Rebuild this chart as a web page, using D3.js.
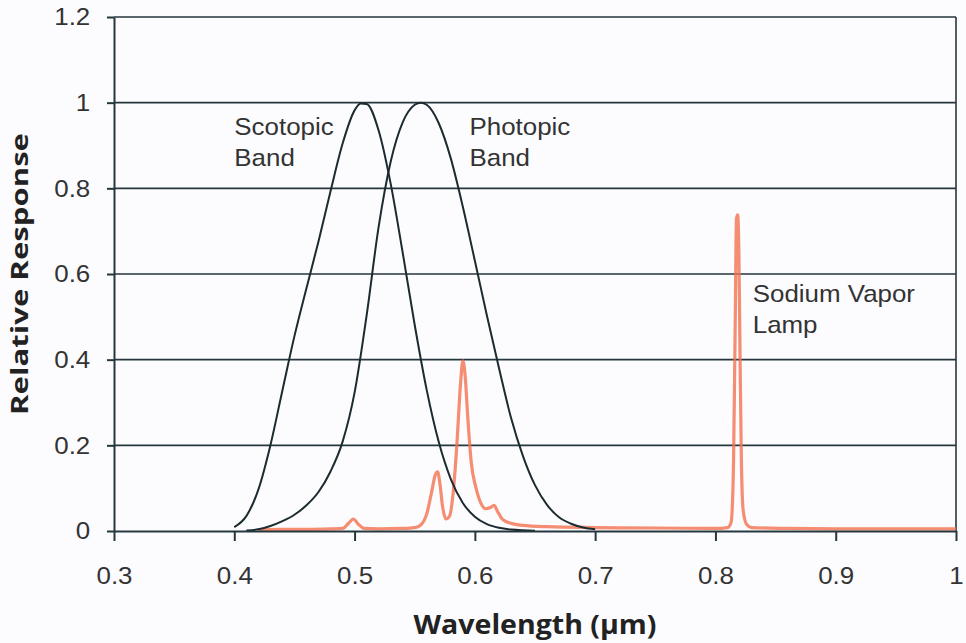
<!DOCTYPE html>
<html lang="en">
<head>
<meta charset="utf-8">
<style>
body { margin: 0; background: #fcfcfe; }
svg { display: block; }
.tick text, .note { font-family: "Liberation Sans", Arial, sans-serif; fill: #333; }
.title { font-family: "Open Sans", "Liberation Sans", sans-serif; font-weight: 700; fill: #222; }
</style>
<title>Relative Response</title>
<script src="https://cdn.jsdelivr.net/npm/d3@7"></script>
</head>
<body>
<div id="chart"></div>
<script>

var width = 966,
	height = 643;

var margin = {top: 17, right: 10, bottom: 112, left: 114};

// tick values
var xTicks = [0.3, 0.4, 0.5, 0.6, 0.7, 0.8, 0.9, 1];
var yTicks = [0, 0.2, 0.4, 0.6, 0.8, 1, 1.2];
var yTickLabels = ["0", "0.2", "0.4", "0.6", "0.8", "1", "1.2"];

// scotopic band (wavelength in µm, relative response)
var scotopicWl = [0.40, 0.41, 0.42, 0.43, 0.44, 0.45, 0.46, 0.47, 0.48, 0.49, 0.50, 0.505, 0.51, 0.52, 0.53, 0.54, 0.55, 0.56, 0.57, 0.58, 0.59, 0.60, 0.61, 0.62, 0.63, 0.64, 0.65];
var scotopicVal = [0.0093, 0.0348, 0.0966, 0.1998, 0.3281, 0.455, 0.567, 0.676, 0.793, 0.904, 0.982, 0.998, 0.997, 0.935, 0.811, 0.650, 0.481, 0.3288, 0.2076, 0.1212, 0.0655, 0.0332, 0.0159, 0.0074, 0.0033, 0.0015, 0.0007];

// photopic band
var photopicWl = [0.41, 0.42, 0.43, 0.44, 0.45, 0.46, 0.47, 0.48, 0.49, 0.50, 0.51, 0.52, 0.53, 0.54, 0.55, 0.555, 0.56, 0.57, 0.58, 0.59, 0.60, 0.61, 0.62, 0.63, 0.64, 0.65, 0.66, 0.67, 0.68, 0.69, 0.70];
var photopicVal = [0.0012, 0.004, 0.0116, 0.023, 0.038, 0.06, 0.091, 0.139, 0.208, 0.323, 0.503, 0.71, 0.862, 0.954, 0.995, 1.0, 0.995, 0.952, 0.87, 0.757, 0.631, 0.503, 0.381, 0.265, 0.175, 0.107, 0.061, 0.032, 0.017, 0.0082, 0.0041];

// sodium vapor lamp spectrum
var sodiumWl = [0.42, 0.44, 0.46, 0.48, 0.49, 0.495, 0.499, 0.503, 0.508, 0.52, 0.54, 0.55, 0.555, 0.56, 0.564, 0.567, 0.569, 0.571, 0.573, 0.576, 0.579, 0.582, 0.585, 0.588, 0.590, 0.592, 0.594, 0.597, 0.601, 0.605, 0.609, 0.613, 0.616, 0.619, 0.623, 0.63, 0.64, 0.66, 0.70, 0.75, 0.80, 0.81, 0.813, 0.815, 0.8165, 0.8175, 0.8185, 0.8195, 0.8205, 0.8215, 0.823, 0.826, 0.83, 0.86, 0.90, 1.0];
var sodiumVal = [0.003, 0.004, 0.004, 0.005, 0.006, 0.018, 0.028, 0.016, 0.006, 0.005, 0.006, 0.008, 0.014, 0.04, 0.09, 0.13, 0.138, 0.11, 0.06, 0.028, 0.035, 0.09, 0.2, 0.34, 0.397, 0.36, 0.27, 0.16, 0.1, 0.065, 0.052, 0.055, 0.06, 0.045, 0.027, 0.018, 0.013, 0.01, 0.008, 0.007, 0.006, 0.008, 0.02, 0.15, 0.5, 0.73, 0.738, 0.65, 0.4, 0.18, 0.05, 0.015, 0.008, 0.006, 0.005, 0.005];

var labels = [
	{lines: ["Scotopic", "Band"], wl: 0.4, v: 0.925},
	{lines: ["Photopic", "Band"], wl: 0.5955, v: 0.925},
	{lines: ["Sodium Vapor", "Lamp"], wl: 0.831, v: 0.535}
];

var svg = d3.select("#chart")
	.append("svg")
	.attr("width", width)
	.attr("height", height);

var x = d3.scaleLinear().domain([0.3, 1]).range([margin.left, width - margin.right]);
var y = d3.scaleLinear().domain([0, 1.2]).range([height - margin.bottom, margin.top]);

var ink = "#25373d";

// grid
svg.append("g")
	.selectAll("line")
	.data(yTicks.slice(1))
	.enter()
	.append("line")
	.attr("x1", x(0.3))
	.attr("x2", x(1))
	.attr("y1", function(d) { return y(d); })
	.attr("y2", function(d) { return y(d); })
	.attr("stroke", ink)
	.attr("stroke-width", 1.6);

svg.append("line")
	.attr("x1", x(1)).attr("x2", x(1))
	.attr("y1", y(1.2)).attr("y2", y(0))
	.attr("stroke", ink)
	.attr("stroke-width", 1.6);

function zip(a, b) { return a.map(function(d, i) { return [d, b[i]]; }); }

var line = d3.line()
	.x(function(d) { return x(d[0]); })
	.y(function(d) { return y(d[1]); })
	.curve(d3.curveMonotoneX);

svg.append("path")
	.datum(zip(sodiumWl, sodiumVal))
	.attr("d", line)
	.attr("fill", "none")
	.attr("stroke", "#f2714f")
	.attr("stroke-opacity", 0.8)
	.attr("stroke-width", 3.2)
	.attr("stroke-linejoin", "round");

[zip(scotopicWl, scotopicVal), zip(photopicWl, photopicVal)].forEach(function(s) {
	svg.append("path")
		.datum(s)
		.attr("d", line)
		.attr("fill", "none")
		.attr("stroke", "#1b2b30")
		.attr("stroke-width", 2);
});

// axes
var xAxis = svg.append("g")
	.attr("transform", "translate(0," + y(0) + ")")
	.call(d3.axisBottom(x).tickValues(xTicks).tickSize(10).tickSizeOuter(0).tickPadding(26)
		.tickFormat(function(d) { return d === 1 ? "1" : d.toFixed(1); }));

var yAxis = svg.append("g")
	.attr("transform", "translate(" + x(0.3) + ",0)")
	.call(d3.axisLeft(y).tickValues(yTicks).tickSize(7).tickSizeOuter(0).tickPadding(15)
		.tickFormat(function(d, i) { return yTickLabels[i]; }));

[xAxis, yAxis].forEach(function(a) {
	a.selectAll("path, line").attr("stroke", ink).attr("stroke-width", 2);
	a.selectAll("text").style("font-size", "24px").attr("fill", "#3a3a3a")
		.attr("transform", "scale(1.08,1)");
});

// annotations
labels.forEach(function(l) {
	var t = svg.append("text")
		.attr("class", "note")
		.style("font-size", "24px")
		.attr("transform", "translate(" + x(l.wl) + "," + y(l.v) + ") scale(1.08,1)");
	l.lines.forEach(function(s, i) {
		t.append("tspan").attr("x", 0).attr("dy", i ? 31 : 0).text(s);
	});
});

// titles
svg.append("text")
	.attr("class", "title")
	.attr("x", (x(0.3) + x(1)) / 2)
	.attr("y", 634)
	.attr("text-anchor", "middle")
	.style("font-size", "26px")
	.attr("textLength", 243)
	.attr("lengthAdjust", "spacingAndGlyphs")
	.text("Wavelength (µm)");

svg.append("text")
	.attr("class", "title")
	.attr("transform", "translate(28," + (y(0) + y(1.2)) / 2 + ") rotate(-90)")
	.attr("text-anchor", "middle")
	.style("font-size", "24px")
	.attr("textLength", 282)
	.attr("lengthAdjust", "spacingAndGlyphs")
	.text("Relative Response");

</script>
</body>
</html>
